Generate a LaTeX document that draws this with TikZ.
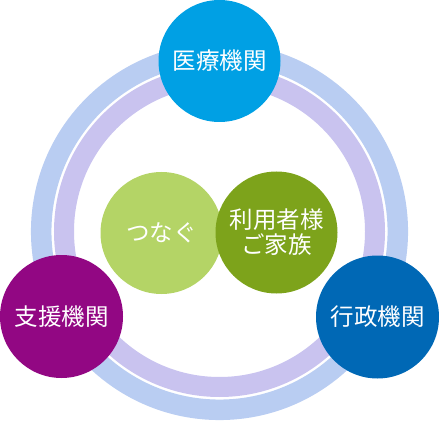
\documentclass[tikz,border=0pt]{standalone}
\usepackage{fontspec}
\newfontfamily\jpfont{Noto Sans CJK JP}
\definecolor{ringblue}{HTML}{B9CDF2}
\definecolor{ringpurple}{HTML}{C9C3EF}
\definecolor{medblue}{HTML}{00A0E4}
\definecolor{supportpurple}{HTML}{920783}
\definecolor{adminblue}{HTML}{0068B5}
\definecolor{lightgreen}{HTML}{B4D466}
\definecolor{darkgreen}{HTML}{7DA31B}
\tikzset{
  org/.style={circle, inner sep=0pt, minimum size=123pt, text=white,
    font=\jpfont\fontsize{23.5pt}{25pt}\selectfont, align=center},
}
\begin{document}
\begin{tikzpicture}[x=1pt, y=-1pt]
			\useasboundingbox (0,0) rectangle (439,422);
			
			% Rings
			\coordinate (mid) at (219.5,231.5);
			\draw[ringblue, line width=20.5pt] (mid) circle (178.3pt);
			\draw[ringpurple, line width=20pt] (mid) circle (155.5pt);
			
			% Organisations
			\node[org, fill=medblue, minimum size=122pt] (med) at (219.5,61) {医療機関};
			\node[org, fill=supportpurple] (support) at (61.5,316.5) {支援機関};
			\node[org, fill=adminblue] (admin) at (377.5,317) {行政機関};
			
			% Centre
			\node[org, fill=lightgreen, minimum size=122pt] (link) at (161.5,233) {つなぐ};
			\node[org, fill=darkgreen, minimum size=122pt] (user) at (276.5,232.5) {利用者様\\ご家族};
		\end{tikzpicture}
\end{document}
